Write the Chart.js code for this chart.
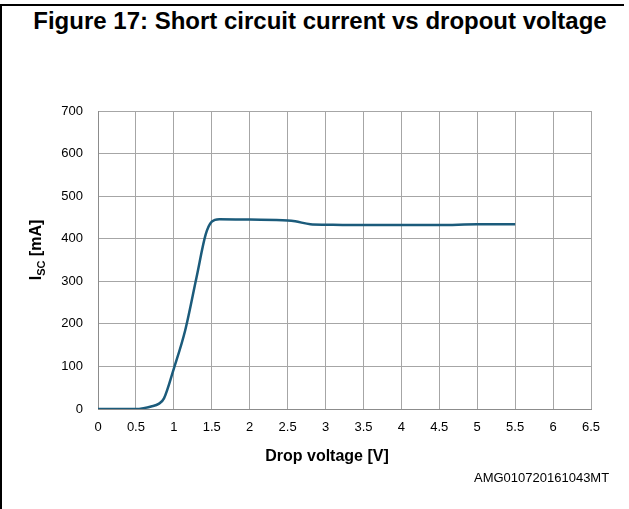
<!DOCTYPE html>
<html>
<head>
<meta charset="utf-8">
<script src="https://cdn.jsdelivr.net/npm/chart.js@4/dist/chart.umd.min.js"></script>
<style>
  html, body { margin: 0; padding: 0; background: #fff; }
  #wrap { position: relative; width: 629px; height: 509px; overflow: hidden; }
  #frameTop { position: absolute; left: 0; top: 4px; width: 624px; height: 2px; background: #000; }
  #frameLeft { position: absolute; left: 0; top: 4px; width: 2px; height: 505px; background: #000; }
  #title { position: absolute; left: 0; top: 7px; width: 640px; text-align: center;
    font: bold 24px "Liberation Sans", Arial, sans-serif; color: #000; white-space: nowrap; }
  #code { position: absolute; left: 474px; top: 470px;
    font: 13px "Liberation Sans", Arial, sans-serif; color: #000; }
  canvas { position: absolute; left: 0; top: 0; }
</style>
</head>
<body>
<div id="wrap">
  <div id="frameTop"></div>
  <div id="frameLeft"></div>
  <div id="title">Figure 17: Short circuit current vs dropout voltage</div>
  <canvas id="chart" width="629" height="509"></canvas>
  <div id="code">AMG010720161043MT</div>
</div>
<script>
// curve
const dropVoltage = [0, 0.5, 0.6, 0.7, 0.8, 0.87, 1.0, 1.15, 1.3, 1.42, 1.5, 1.6, 2.0, 2.5, 2.6, 2.8, 3.0, 3.5, 4.0, 4.5, 5.0, 5.5];
const iscCurrent  = [0, 0, 2, 6, 12, 25, 95, 185, 310, 410, 440, 446, 445, 443, 441, 434, 433, 432, 432, 432, 434, 434];
const xTicks = [0, 0.5, 1, 1.5, 2, 2.5, 3, 3.5, 4, 4.5, 5, 5.5, 6, 6.5];
const yTicks = [0, 100, 200, 300, 400, 500, 600, 700];

const points = dropVoltage.map((v, i) => ({ x: v, y: iscCurrent[i] }));
const fontFamily = '"Liberation Sans", Arial, sans-serif';

// axis titles drawn by hand: the y one needs a subscript
const axisTitlePlugin = {
  id: 'axisTitles',
  afterDraw(chart) {
    const ctx = chart.ctx;
    ctx.save();
    ctx.fillStyle = '#000';
    ctx.textBaseline = 'alphabetic';

    ctx.font = 'bold 16px ' + fontFamily;
    ctx.textAlign = 'center';
    ctx.fillText('Drop voltage [V]', 327, 461);

    ctx.textAlign = 'left';
    ctx.translate(41, 250);
    ctx.rotate(-Math.PI / 2);
    const big = 'bold 16px ' + fontFamily;
    const small = 'bold 11px ' + fontFamily;
    ctx.font = big;
    const wI = ctx.measureText('I').width;
    const wRest = ctx.measureText(' [mA]').width;
    ctx.font = small;
    const wSub = ctx.measureText('SC').width;
    let x = -(wI + wSub + wRest) / 2;
    ctx.font = big;
    ctx.fillText('I', x, 0);
    x += wI;
    ctx.font = small;
    ctx.fillText('SC', x, 4);
    x += wSub;
    ctx.font = big;
    ctx.fillText(' [mA]', x, 0);
    ctx.restore();
  }
};

const tickFont = { family: fontFamily, size: 13 };

new Chart(document.getElementById('chart'), {
  type: 'line',
  data: {
    datasets: [{
      data: points,
      borderColor: '#1b5b7b',
      borderWidth: 2.5,
      pointRadius: 0,
      fill: false,
      cubicInterpolationMode: 'monotone'
    }]
  },
  options: {
    responsive: false,
    animation: false,
    layout: { padding: { left: 0, top: 111, right: 38, bottom: 42 } },
    plugins: { legend: { display: false }, tooltip: { enabled: false } },
    scales: {
      x: {
        type: 'linear',
        min: 0,
        max: 6.5,
        afterBuildTicks: s => { s.ticks = xTicks.map(v => ({ value: v })); },
        afterFit: s => { s.height = 58; },
        grid: { color: '#a6a6a6', lineWidth: 1, drawTicks: false },
        border: { color: '#8c8c8c', width: 1 },
        ticks: {
          color: '#000', font: tickFont, padding: 11, maxRotation: 0, autoSkip: false,
          callback: v => String(v)
        }
      },
      y: {
        min: 0,
        max: 700,
        afterBuildTicks: s => { s.ticks = yTicks.map(v => ({ value: v })); },
        afterFit: s => { s.width = 98; },
        grid: { color: '#a6a6a6', lineWidth: 1, drawTicks: false },
        border: { color: '#8c8c8c', width: 1 },
        ticks: { color: '#000', font: tickFont, padding: 15, callback: v => String(v) }
      }
    }
  },
  plugins: [axisTitlePlugin]
});
</script>
</body>
</html>
